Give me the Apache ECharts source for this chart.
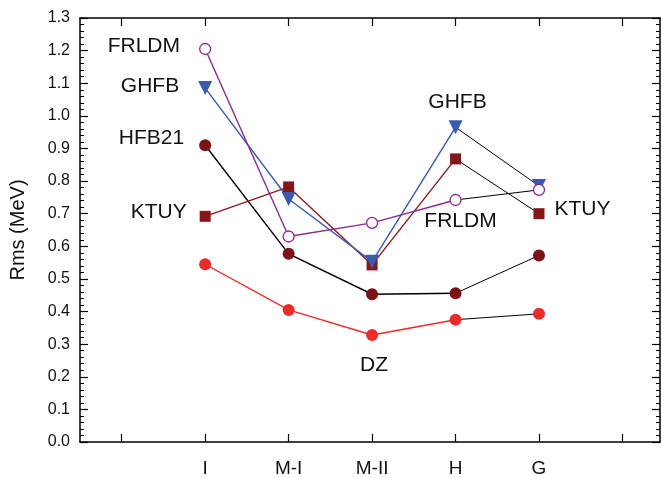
<!DOCTYPE html>
<html><head><meta charset="utf-8">
<script src="https://cdn.jsdelivr.net/npm/echarts@6/dist/echarts.min.js"></script>
<style>html,body{margin:0;padding:0;background:#fff}#c{width:662px;height:478px}</style>
</head><body><div id="c"></div>
<script>
const categories = ['I', 'M-I', 'M-II', 'H', 'G'];
const catPositions = [1, 2, 3, 4, 5];
const xTickValues = [0, 1, 2, 3, 4, 5, 6];
const yTickLabels = ['0.0','0.1','0.2','0.3','0.4','0.5','0.6','0.7','0.8','0.9','1.0','1.1','1.2','1.3'];

const DZ     = [0.545, 0.405, 0.328, 0.375, 0.393];
const HFB21  = [0.910, 0.577, 0.453, 0.456, 0.572];
const KTUY   = [0.692, 0.782, 0.543, 0.868, 0.700];
const GHFB   = [1.085, 0.745, 0.553, 0.965, 0.785];
const FRLDM  = [1.205, 0.630, 0.672, 0.742, 0.773];

const annotations = [
  {series: 'FRLDM', cat: 'I', text: 'FRLDM'},
  {series: 'GHFB', cat: 'I', text: 'GHFB'},
  {series: 'HFB21', cat: 'I', text: 'HFB21'},
  {series: 'KTUY', cat: 'I', text: 'KTUY'},
  {series: 'GHFB', cat: 'H', text: 'GHFB'},
  {series: 'FRLDM', cat: 'H', text: 'FRLDM'},
  {series: 'KTUY', cat: 'G', text: 'KTUY'},
  {series: 'DZ', cat: 'M-II', text: 'DZ'}
];

const labelStyle = {
  'FRLDM|I': {position: 'left', distance: 19, offset: [0, -3]},
  'GHFB|I': {position: 'left', distance: 19, offset: [0, -2]},
  'HFB21|I': {position: 'left', distance: 15, offset: [0, -7]},
  'KTUY|I': {position: 'left', distance: 13, offset: [0, -4]},
  'GHFB|H': {position: 'top', distance: 8, offset: [2, 0]},
  'FRLDM|H': {position: 'bottom', distance: 5, offset: [5, 0]},
  'KTUY|G': {position: 'right', distance: 10, offset: [0, -4]},
  'DZ|M-II': {position: 'bottom', distance: 14, offset: [2, 0]}
};

const models = [
  {name: 'DZ', values: DZ, line: '#ee2b2b', symbol: 'circle', size: 12, fill: '#ee2b2b', border: '#ee2b2b', rotate: 0},
  {name: 'HFB21', values: HFB21, line: '#000000', symbol: 'circle', size: 12, fill: '#7a1216', border: '#7a1216', rotate: 0},
  {name: 'KTUY', values: KTUY, line: '#8b1a1a', symbol: 'rect', size: 11, fill: '#861518', border: '#861518', rotate: 0},
  {name: 'GHFB', values: GHFB, line: '#3a5aad', symbol: 'triangle', size: 14, fill: '#3a5aad', border: '#3a5aad', rotate: 180},
  {name: 'FRLDM', values: FRLDM, line: '#8c2a8e', symbol: 'circle', size: 11, fill: '#ffffff', border: '#8c2a8e', rotate: 0}
];

const series = [];
models.forEach((m, mi) => {
  const mainData = m.values.map((v, i) => i < 4 ? [catPositions[i], v] : [catPositions[i], null]);
  const tailData = m.values.map((v, i) => i >= 3 ? [catPositions[i], v] : [catPositions[i], null]);
  series.push({
    type: 'line', data: mainData, showSymbol: false, silent: true, z: 2,
    lineStyle: {color: m.line, width: 1.4}, animation: false, connectNulls: false
  });
  series.push({
    type: 'line', data: tailData, showSymbol: false, silent: true, z: 2,
    lineStyle: {color: '#000000', width: 1}, animation: false, connectNulls: false
  });
  const pts = m.values.map((v, i) => {
    const item = {value: [catPositions[i], v]};
    const ann = annotations.find(a => a.series === m.name && a.cat === categories[i]);
    if (ann) {
      const st = labelStyle[m.name + '|' + categories[i]];
      item.label = Object.assign({
        show: true, formatter: ann.text, color: '#111', fontSize: 21,
        fontFamily: 'Liberation Sans, Arial, sans-serif'
      }, st);
    }
    return item;
  });
  series.push({
    type: 'scatter', data: pts, symbol: m.symbol, symbolSize: m.size, symbolRotate: m.rotate,
    z: 3 + mi, animation: false,
    itemStyle: {color: m.fill, borderColor: m.border, borderWidth: m.fill === '#ffffff' ? 1.3 : 0, opacity: 1}
  });
});

const axisLine = {show: true, onZero: false, lineStyle: {color: '#000', width: 1.5}};
const font = 'Liberation Sans, Arial, sans-serif';

const option = {
  backgroundColor: '#fff',
  animation: false,
  grid: {left: 76, right: 2, top: 18, bottom: 28, containLabel: false},
  xAxis: [
    {type: 'value', position: 'bottom', min: -0.5, max: 6.45, axisLine,
     splitLine: {show: false},
     axisTick: {show: true, inside: true, length: 8, customValues: xTickValues, lineStyle: {color: '#000', width: 1.2}},
     axisLabel: {show: true, customValues: catPositions, margin: 17, color: '#111', fontSize: 19, fontFamily: font,
       formatter: v => categories[catPositions.indexOf(v)] || ''}},
    {type: 'value', position: 'top', min: -0.5, max: 6.45, axisLine,
     splitLine: {show: false},
     axisTick: {show: true, inside: true, length: 8, customValues: xTickValues, lineStyle: {color: '#000', width: 1.2}},
     axisLabel: {show: false}}
  ],
  yAxis: [
    {type: 'value', position: 'left', min: 0, max: 1.3, interval: 0.1, axisLine,
     name: 'Rms (MeV)', nameLocation: 'middle', nameGap: 52, nameRotate: 90,
     nameTextStyle: {fontSize: 20, color: '#111', fontFamily: font},
     splitLine: {show: false},
     axisTick: {show: true, inside: true, length: 8, lineStyle: {color: '#000', width: 1.2}},
     minorTick: {show: true, splitNumber: 5, length: 4, lineStyle: {color: '#000', width: 1}},
     axisLabel: {margin: 10, color: '#111', fontSize: 16, fontFamily: font,
       formatter: v => yTickLabels[Math.round(v * 10)]}},
    {type: 'value', position: 'right', min: 0, max: 1.3, interval: 0.1, axisLine,
     splitLine: {show: false},
     axisTick: {show: true, inside: true, length: 8, lineStyle: {color: '#000', width: 1.2}},
     minorTick: {show: true, splitNumber: 5, length: 4, lineStyle: {color: '#000', width: 1}},
     axisLabel: {show: false}}
  ],
  series
};
echarts.init(document.getElementById('c'), null, {renderer: 'canvas'}).setOption(option);
</script></body></html>
